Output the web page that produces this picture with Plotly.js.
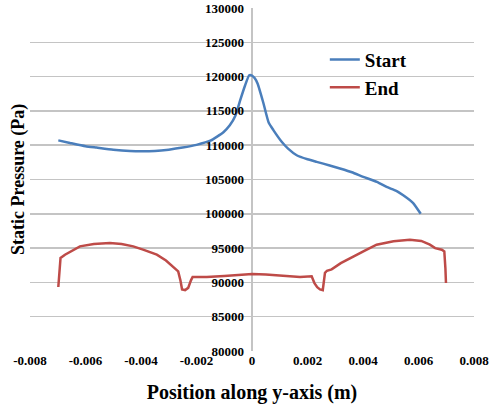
<!DOCTYPE html>
<html>
<head>
<meta charset="utf-8">
<script src="https://cdn.plot.ly/plotly-3.0.1.min.js"></script>
<style>html,body{margin:0;padding:0;background:#fff;}#chart{width:491px;height:405px;}</style>
</head>
<body>
<div id="chart"></div>
<script>
// Start series
const startX = [-0.00698, -0.00656, -0.0060, -0.0056, -0.0050, -0.0044, -0.0040, -0.0035, -0.0030, -0.0025, -0.0020, -0.0015, -0.00103, -0.0008, -0.0006, -0.00043, -0.00025, -0.0001, 0.0000, 0.0001, 0.0002, 0.0004, 0.0006, 0.00077, 0.00107, 0.0013, 0.00161, 0.0020, 0.00233, 0.0028, 0.00317, 0.0036, 0.00401, 0.0045, 0.00485, 0.0052, 0.00545, 0.0058, 0.00608];
const startY = [110700, 110330, 109850, 109650, 109350, 109150, 109100, 109150, 109350, 109650, 110050, 110650, 111900, 112900, 114300, 116500, 118700, 120200, 120150, 119750, 119000, 116300, 113300, 112200, 110500, 109500, 108540, 107950, 107570, 107050, 106600, 106050, 105380, 104650, 103920, 103350, 102700, 101600, 100000];
// End series
const endX = [-0.00698, -0.0069, -0.00674, -0.0065, -0.0062, -0.0057, -0.00512, -0.0047, -0.00428, -0.0039, -0.00343, -0.0031, -0.00284, -0.00266, -0.00258, -0.00252, -0.00241, -0.0023, -0.0022, -0.00214, -0.0018, -0.00163, -0.001, -0.0005, 0.00001, 0.0005, 0.001, 0.0015, 0.00173, 0.00215, 0.00225, 0.00235, 0.00245, 0.00255, 0.00263, 0.0027, 0.00287, 0.0032, 0.00365, 0.0041, 0.00449, 0.0051, 0.00569, 0.0061, 0.00641, 0.0066, 0.00684, 0.00693, 0.00697, 0.00699];
const endY = [89330, 93560, 94040, 94600, 95250, 95600, 95740, 95600, 95250, 94750, 94040, 93200, 92330, 91600, 90300, 88980, 88880, 89200, 90300, 90790, 90790, 90800, 90950, 91100, 91230, 91150, 91000, 90850, 90790, 90880, 89900, 89300, 88980, 88880, 91400, 91700, 91900, 92800, 93800, 94700, 95500, 96000, 96210, 96050, 95500, 95000, 94760, 94520, 92000, 89910];

const tickVals = [80000, 85000, 90000, 95000, 100000, 105000, 110000, 115000, 120000, 125000, 130000];
const tickText = ['80000', '85000', '90000', '95000', '100000', '105000', '110000', '115000', '120000', '125000', '130000'];
const xTickVals = [-0.008, -0.006, -0.004, -0.002, 0, 0.002, 0.004, 0.006, 0.008];
const xTickText = ['-0.008', '-0.006', '-0.004', '-0.002', '0', '0.002', '0.004', '0.006', '0.008'];

const serif = 'Liberation Serif';

const traces = [
  {x: startX, y: startY, name: 'Start', mode: 'lines', type: 'scatter',
   line: {color: '#4A7EBB', width: 2.5, shape: 'spline', smoothing: 0.5}},
  {x: endX, y: endY, name: 'End', mode: 'lines', type: 'scatter',
   line: {color: '#BE4B48', width: 2.5}}
];

const layout = {
  width: 491, height: 405,
  margin: {l: 30, r: 17, t: 8, b: 54},
  paper_bgcolor: '#fff', plot_bgcolor: '#fff',
  font: {family: serif, color: '#000'},
  xaxis: {
    range: [-0.008, 0.008], tickvals: xTickVals, ticktext: xTickText,
    showgrid: false, zeroline: true, zerolinecolor: '#c4c4c4', zerolinewidth: 1.5,
    showline: false, ticks: '',
    tickfont: {family: serif, size: 13, weight: 'bold', color: '#000'},
    title: {text: 'Position along y-axis (m)', font: {family: serif, size: 20, weight: 'bold', color: '#000'}, standoff: 17}
  },
  yaxis: {
    range: [80000, 130000], tickvals: tickVals, ticktext: tickText,
    anchor: 'free', position: 0.482,
    showgrid: true, gridcolor: '#c4c4c4', gridwidth: 1.5,
    zeroline: false, showline: false, ticks: '',
    tickfont: {family: serif, size: 13, weight: 'bold', color: '#000'},
    title: {text: ''}
  },
  annotations: [{
    text: 'Static Pressure (Pa)', xref: 'paper', yref: 'paper',
    x: -0.026, y: 0.5, textangle: -90, showarrow: false,
    xanchor: 'center', yanchor: 'middle',
    font: {family: serif, size: 18, weight: 'bold', color: '#000'}
  }],
  legend: {
    x: 0.664, y: 0.905, xanchor: 'left', yanchor: 'top',
    bgcolor: 'rgba(0,0,0,0)',
    font: {family: serif, size: 19, weight: 'bold', color: '#000'},
    itemwidth: 30, tracegroupgap: 0
  },
  showlegend: true
};

Plotly.newPlot('chart', traces, layout, {displayModeBar: false, staticPlot: true});
</script>
</body>
</html>
